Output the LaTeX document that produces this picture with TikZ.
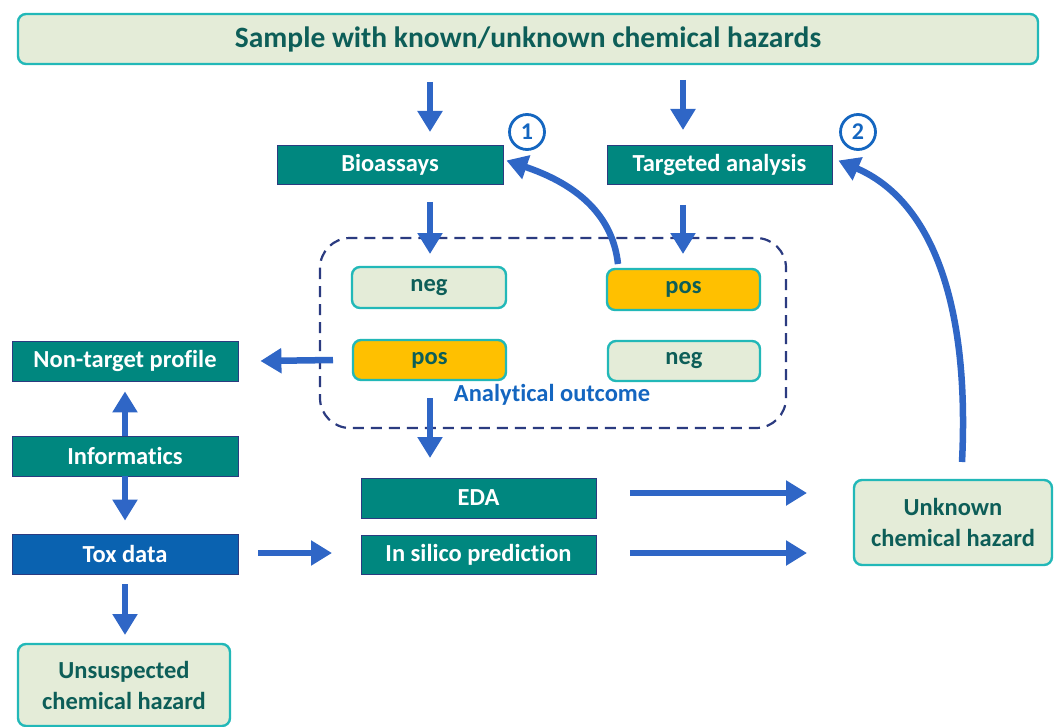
\documentclass[tikz,border=0pt]{standalone}
\usepackage{fontspec}
\setmainfont{Carlito}[Ligatures={NoCommon}]
\usetikzlibrary{arrows.meta}
\definecolor{lgreen}{HTML}{E4ECD8}
\definecolor{tborder}{HTML}{22B8B8}
\definecolor{dteal}{HTML}{0D5E58}
\definecolor{teal2}{HTML}{00877F}
\definecolor{navy}{HTML}{2B3B80}
\definecolor{arrblue}{HTML}{2F66C6}
\definecolor{toxblue}{HTML}{0A62B0}
\definecolor{orng}{HTML}{FFC000}
\definecolor{txtblue}{HTML}{1466C0}
\tikzset{
  bfnt/.style={font=\bfseries\fontsize{24.5}{31}\selectfont},
  lightbox/.style={draw=tborder,line width=2.4pt,fill=lgreen,rounded corners=8pt,text=dteal,bfnt,align=center,inner sep=0pt},
  tealbox/.style={draw=navy,line width=0.8pt,fill=teal2,text=white,bfnt,inner sep=0pt},
  orbox/.style={draw=tborder,line width=2.4pt,fill=orng,rounded corners=8pt,text=dteal,bfnt,inner sep=0pt},
  arr/.style={draw=arrblue,line width=6.5pt,-{Triangle[width=24pt,length=21pt]}},
  numc/.style={circle,draw=txtblue,line width=2.8pt,minimum size=35pt,inner sep=0pt,text=txtblue,font=\bfseries\fontsize{24}{26}\selectfont},
}
\begin{document}
\begin{tikzpicture}[x=1pt,y=-1pt]
\useasboundingbox (0,0) rectangle (1056,727);
% boxes
\node[lightbox,minimum width=1020pt,minimum height=50pt,font=\bfseries\fontsize{29.5}{32}\selectfont] (sample) at (528,39) {Sample with known/unknown chemical hazards};
\node[tealbox,minimum width=226pt,minimum height=39pt] (bio) at (390,164.5) {Bioassays};
\node[tealbox,minimum width=225pt,minimum height=39pt] (ta) at (719.5,164.5) {Targeted analysis};
\node[numc] (n1) at (527,132) {1};
\node[numc] (n2) at (858,132) {2};
\draw[navy,line width=2.2pt,dash pattern=on 11pt off 7pt,rounded corners=30pt] (320,238) rectangle (786,428);
\coordinate (dboxL) at (333,360);
\node[lightbox,minimum width=154pt,minimum height=41pt] (neg1) at (429,287.5) {neg};
\node[orbox,minimum width=153pt,minimum height=41pt] (pos1) at (683.5,289.5) {pos};
\node[orbox,minimum width=153pt,minimum height=40pt] (pos2) at (429.5,360) {pos};
\node[lightbox,minimum width=152pt,minimum height=40pt] (neg2) at (684,361) {neg};
\node[text=txtblue,bfnt] (ao) at (552,395) {Analytical outcome};
\node[tealbox,minimum width=226pt,minimum height=40pt] (ntp) at (125,361) {Non-target profile};
\node[tealbox,minimum width=226pt,minimum height=40pt] (inf) at (125,456) {Informatics};
\node[tealbox,fill=toxblue,minimum width=226pt,minimum height=40pt] (tox) at (125,554) {Tox data};
\node[lightbox,minimum width=212pt,minimum height=82pt] (unsus) at (124,685) {Unsuspected\\chemical hazard};
\node[tealbox,minimum width=235pt,minimum height=40pt] (eda) at (478.5,498) {EDA};
\node[tealbox,minimum width=235pt,minimum height=39pt] (insil) at (478.5,554.5) {In silico prediction};
\node[lightbox,minimum width=198pt,minimum height=85pt] (unk) at (953,522.5) {Unknown\\chemical hazard};
% arrows
\draw[arr] (430,82) -- (430,132);
\draw[arr] (683,80) -- (683,130);
\draw[arr] (430,202) -- (430,254);
\draw[arr] (683,205) -- (683,254);
\draw[arr] (618,264) .. controls (612,210) and (570,182) .. ([xshift=3pt,yshift=4pt]bio.east);
\draw[arr] (dboxL) -- ([xshift=22pt]ntp.east);
\draw[arr] (inf.north) -- ([yshift=-10pt]ntp.south);
\draw[arr] (inf.south) -- ([yshift=13pt]tox.north);
\draw[arr] (125,584) -- (125,635);
\draw[arr] (430,398) -- (430,458);
\draw[arr] (258,553) -- (332,553);
\draw[arr] (630,493) -- (807,493);
\draw[arr] (630,553) -- (807,553);
\draw[arr] (962,462) .. controls (970,300) and (930,200) .. ([xshift=6pt,yshift=4pt]ta.east);
\end{tikzpicture}
\end{document}
